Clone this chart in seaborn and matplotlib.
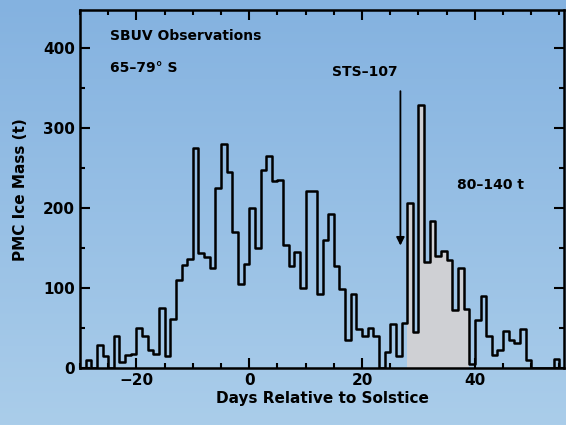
import numpy as np
import pandas as pd
import matplotlib
matplotlib.use("Agg")
import matplotlib.pyplot as plt
import seaborn as sns
from matplotlib.ticker import MultipleLocator

# ---- data ----
days = list(range(-30, 56))
ice_mass = [0,
    11, 0, 29, 15, 0, 40, 8, 17, 18, 51,          # -29 .. -20
    40, 23, 18, 76, 15, 62, 110, 129, 137, 275,   # -19 .. -10
    144, 139, 125, 226, 280, 245, 170, 105, 130,  # -9 .. -1
    200, 150, 248, 265, 234, 236, 154, 128, 146, 101,  # 0 .. 9
    222, 222, 93, 161, 193, 128, 99, 35, 93, 49,       # 10 .. 19
    40, 51, 41, 0, 21, 56, 15, 57, 207, 46,            # 20 .. 29
    329, 133, 184, 141, 147, 135, 73, 125, 74, 6,      # 30 .. 39
    60, 91, 41, 17, 23, 47, 35, 32, 49, 10,            # 40 .. 49
    0, 0, 0, 0, 12, 0]                                  # 50 .. 55
shade_start, shade_end = 28, 39
sts_day, arrow_top, arrow_tip = 26.8, 350, 150

df = pd.DataFrame({"day": days, "mass": ice_mass})

sns.set_theme(style="ticks")
plt.rcParams["font.family"] = ["DejaVu Sans"]
plt.rcParams["font.weight"] = "bold"
plt.rcParams["text.color"] = "black"
plt.rcParams["axes.labelcolor"] = "black"

W, H = 566, 425
fig = plt.figure(figsize=(W / 100, H / 100), dpi=100)

# sky-like background gradient
bg = fig.add_axes([0, 0, 1, 1], zorder=-10)
top = np.array([132, 178, 224]) / 255
bot = np.array([170, 205, 234]) / 255
t = np.linspace(0, 1, 256)[:, None]
grad = (top[None, :] * (1 - t) + bot[None, :] * t)[:, None, :]
bg.imshow(np.repeat(grad, 4, axis=1), aspect="auto", extent=[0, 1, 0, 1])
bg.set_axis_off()

ax = fig.add_axes([80 / W, (H - 368.3) / H, (564 - 80) / W, (368.3 - 10) / H])
ax.set_facecolor("none")

# shaded region under histogram
sub = df[(df.day >= shade_start) & (df.day <= shade_end)]
ax.fill_between(sub.day, 0, sub.mass, step="post", color="#cfd0d4", lw=0, zorder=1)

# step histogram via seaborn
ext = pd.concat([df, pd.DataFrame({"day": [56], "mass": [0]})], ignore_index=True)
sns.lineplot(data=ext, x="day", y="mass", drawstyle="steps-post", color="black",
             lw=1.8, ax=ax, zorder=3, estimator=None)

ax.set_xlim(-30, 55.8)
ax.set_ylim(0, 448)
ax.xaxis.set_major_locator(MultipleLocator(20))
ax.xaxis.set_minor_locator(MultipleLocator(5))
ax.yaxis.set_major_locator(MultipleLocator(100))
ax.yaxis.set_minor_locator(MultipleLocator(50))
ax.tick_params(which="both", direction="in", top=True, right=True, width=1.5,
               labelsize=11, colors="black")
ax.tick_params(which="major", length=7)
ax.tick_params(which="minor", length=3.5)
for s in ax.spines.values():
    s.set_linewidth(1.8)
    s.set_color("black")
ax.set_xlabel("Days Relative to Solstice", fontsize=11, fontweight="bold",
              labelpad=2, color="black")
ax.set_ylabel("PMC Ice Mass (t)", fontsize=11, fontweight="bold",
              labelpad=11, color="black")

kw = dict(fontsize=10, fontweight="bold", va="center", color="black")
ax.text(-24.7, 415, "SBUV Observations", ha="left", **kw)
ax.text(-24.7, 375, "65–79° S", ha="left", **kw)
ax.text(20.5, 370, "STS–107", ha="center", **kw)
ax.text(36.9, 229, "80–140 t", ha="left", **kw)
ax.annotate("", xy=(sts_day, arrow_tip), xytext=(sts_day, arrow_top),
            arrowprops=dict(arrowstyle="-|>", lw=1.3, color="black", mutation_scale=12))

fig.savefig("out.png", dpi=100)
